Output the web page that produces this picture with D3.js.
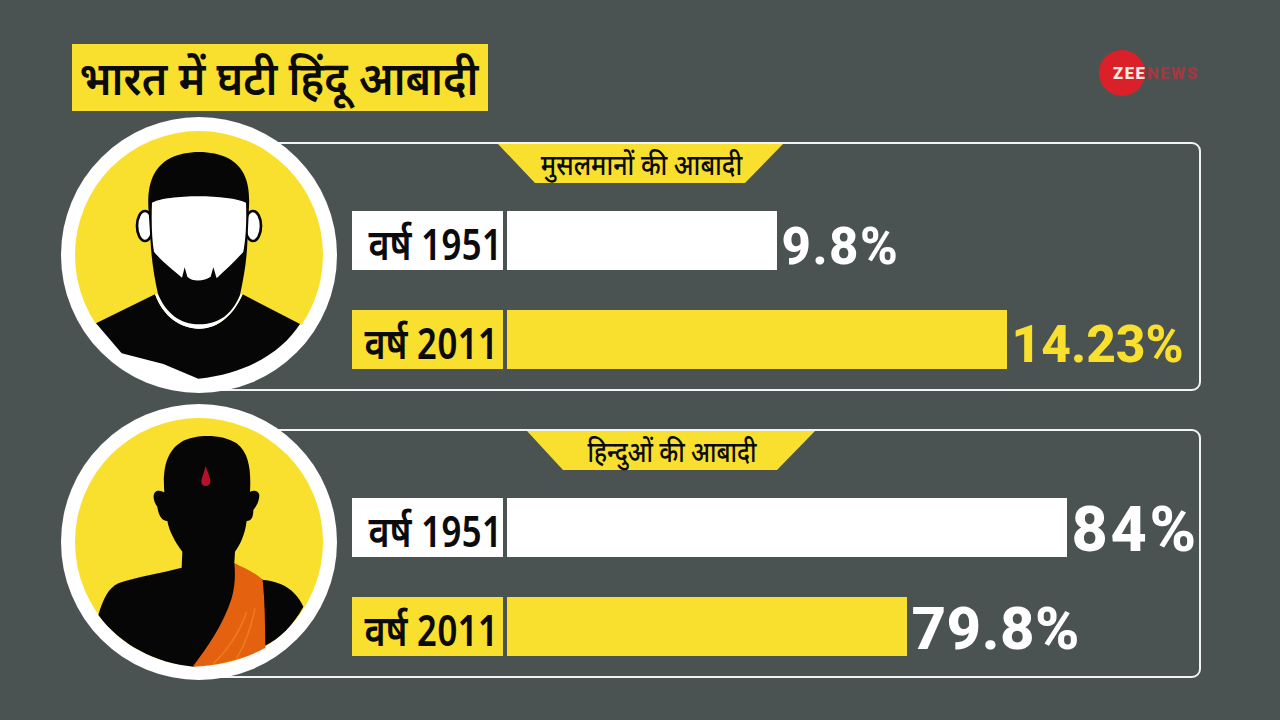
<!DOCTYPE html>
<html><head><meta charset="utf-8">
<script src="https://cdn.jsdelivr.net/npm/d3@7"></script>
<style>html,body{margin:0;padding:0;background:#4b5352;overflow:hidden}svg{display:block}
text{font-family:"Noto Sans Devanagari","Lohit Devanagari","Noto Sans","Noto Sans CJK SC",Roboto,sans-serif}</style>
</head><body><svg id="c" width="1280" height="720"></svg>
<script>
const titleText = "भारत में घटी हिंदू आबादी";
const groupNames = ["मुसलमानों की आबादी", "हिन्दुओं की आबादी"];
const years = ["वर्ष 1951", "वर्ष 2011"];
const muslimLabels = ["9.8%", "14.23%"];
const hinduLabels = ["84%", "79.8%"];
// Bar lengths as drawn in the picture (they are not proportional to the printed share)
const muslimBars = [27, 50];
const hinduBars = [56, 40];

const BG="#4b5352", YEL="#fae02e", WH="#ffffff", INK="#0b0b0b";
const svg = d3.select("#c");
svg.append("rect").attr("width",1280).attr("height",720).attr("fill",BG);

function squeezed(parent,x,y,sx,anchor,size,weight,fill,txt){
  return parent.append("text").attr("transform",`translate(${x},${y}) scale(${sx},1)`)
    .attr("text-anchor",anchor).attr("font-size",size).attr("font-weight",weight).attr("fill",fill).text(txt);
}

// title
svg.append("rect").attr("x",72).attr("y",44).attr("width",416).attr("height",67).attr("fill",YEL);
squeezed(svg,279,95,0.907,"middle",47,600,INK,titleText);

// logo
svg.append("circle").attr("cx",1122).attr("cy",73).attr("r",23).attr("fill","#dc2029");
svg.append("text").attr("x",1113).attr("y",79).attr("font-size",16.5).attr("font-weight",900).attr("letter-spacing",1.6).attr("fill","#f7e8e2").style("font-family","Roboto").text("ZEE");
svg.append("text").attr("x",1147).attr("y",79).attr("font-size",16.5).attr("font-weight",900).attr("letter-spacing",1.5).attr("fill","#a23840").style("font-family","Roboto").text("NEWS");

const len = d3.scaleLinear().domain([0,100]).range([0,1000]);
const barX = 507;

function panel(dy, name, ribbon, labels, bars, valueFills, valueFont, ribbonSqueeze){
  const g = svg.append("g").attr("transform",`translate(0,${dy})`);
  g.append("rect").attr("x",200).attr("y",143).attr("width",1000).attr("height",247).attr("rx",8).attr("fill","none").attr("stroke","#f2f4f3").attr("stroke-width",2);
  g.append("path").attr("d",`M${ribbon[0]},144 L${ribbon[1]},144 L${ribbon[2]},183 L${ribbon[3]},183 Z`).attr("fill",YEL);
  squeezed(g,(ribbon[0]+ribbon[1])/2+1,175,ribbonSqueeze,"middle",29,500,INK,name);
  const y = d3.scaleBand().domain(years).range([211,369]).paddingInner(0.404).paddingOuter(0);
  const fills=[WH,YEL];
  const rows = g.selectAll("g.row").data(years).join("g").attr("class","row");
  rows.append("rect").attr("x",352).attr("y",d=>y(d)).attr("width",151).attr("height",y.bandwidth()).attr("fill",(d,i)=>fills[i]);
  rows.each(function(d,i){ squeezed(d3.select(this),[502,498][i],y(d)+49,0.84,"end",43,600,INK,d); });
  rows.append("rect").attr("x",barX).attr("y",d=>y(d)).attr("width",(d,i)=>len(bars[i])).attr("height",y.bandwidth()).attr("fill",(d,i)=>fills[i]);
  rows.append("text").attr("x",(d,i)=>barX+len(bars[i])+4.5).attr("y",d=>y(d)+52.5)
    .attr("font-size",(d,i)=>valueFont[i][0]).attr("font-weight",800).attr("letter-spacing",(d,i)=>valueFont[i][1])
    .style("font-family","Roboto").attr("fill",(d,i)=>valueFills[i]).text((d,i)=>labels[i]);
  return g;
}
panel(0,groupNames[0],[498,783,745,535],muslimLabels,muslimBars,[WH,YEL],[[51,1.5],[51.5,0]],0.865);
panel(287,groupNames[1],[527,815,777,563],hinduLabels,hinduBars,[WH,WH],[[63,2.7],[60,0.5]],0.83);

// portraits (paths traced in a 3x crop space)
function portrait(cy,dy){
  const g=svg.append("g");
  g.append("circle").attr("cx",199).attr("cy",cy).attr("r",138).attr("fill",WH);
  g.append("circle").attr("cx",199).attr("cy",cy).attr("r",124).attr("fill",YEL);
  return g.append("g").attr("transform",`translate(50,${cy-dy}) scale(${1/3})`);
}
const m=portrait(255,145);
m.append("path").attr("fill",WH).attr("d","M138,640 L120,660 L204,765 L447,845 L690,765 L775,660 L750,642 Z");
m.append("path").attr("fill","#060606").attr("d","M138,640 L315,553 C340,620 390,656 447,656 C510,656 552,610 578,553 L750,642 C700,720 600,790 445,806 L340,762 L215,730 Z");
m.append("path").attr("fill",WH).attr("d","M315,553 C340,620 390,656 447,656 C510,656 552,610 578,553 L568,553 C545,605 505,643 447,643 C395,643 345,605 325,553 Z");
[[285,348],[609,348]].forEach(p=>m.append("ellipse").attr("cx",p[0]).attr("cy",p[1]).attr("rx",24).attr("ry",45).attr("fill",WH).attr("stroke","#060606").attr("stroke-width",8));
m.append("path").attr("fill","#060606").attr("d","M295,290 C293,230 305,175 360,145 C410,120 485,120 535,145 C590,175 600,230 597,290 L592,400 C590,450 582,500 570,555 C545,615 505,643 447,643 C390,643 348,610 324,552 C312,500 305,450 302,400 Z");
m.append("path").attr("fill",WH).attr("d","M306,278 C350,252 540,252 588,278 C590,330 588,385 580,425 C555,455 525,480 500,505 L490,472 L482,500 C465,512 430,518 412,500 L404,472 L396,503 C370,480 335,455 312,425 C305,385 304,330 306,278 Z");
const h=portrait(542,147);
h.append("path").attr("fill","#060606").attr("d","M145,660 C160,610 175,580 205,565 C260,545 330,535 395,518 L397,470 C375,440 358,410 352,378 C335,378 325,360 322,335 C310,320 305,295 320,288 C330,285 340,290 343,292 C338,230 345,170 395,140 C440,115 520,118 560,145 C600,175 603,235 600,290 C610,285 625,285 628,300 C628,320 618,335 610,345 C610,365 605,378 590,378 C585,420 570,450 555,470 L553,505 L640,555 C690,560 735,580 760,635 C730,690 690,730 645,752 L430,815 C320,805 210,750 145,660 Z");
h.append("path").attr("fill","#e4620f").attr("d","M553,505 C585,520 620,535 638,555 C645,620 645,690 646,758 C590,790 510,812 428,815 C470,760 520,690 545,610 C556,570 556,535 553,505 Z");
["M590,650 C570,710 530,770 490,805","M615,640 C605,690 590,740 560,790"].forEach(d=>h.append("path").attr("d",d).attr("fill","none").attr("stroke","#ef7a1c").attr("stroke-width",5));
h.append("path").attr("fill","#b5122a").attr("d","M467,212 C474,235 482,250 481,260 C480,268 474,273 467,273 C460,273 454,268 454,260 C454,250 462,235 467,212 Z");
</script></body></html>
